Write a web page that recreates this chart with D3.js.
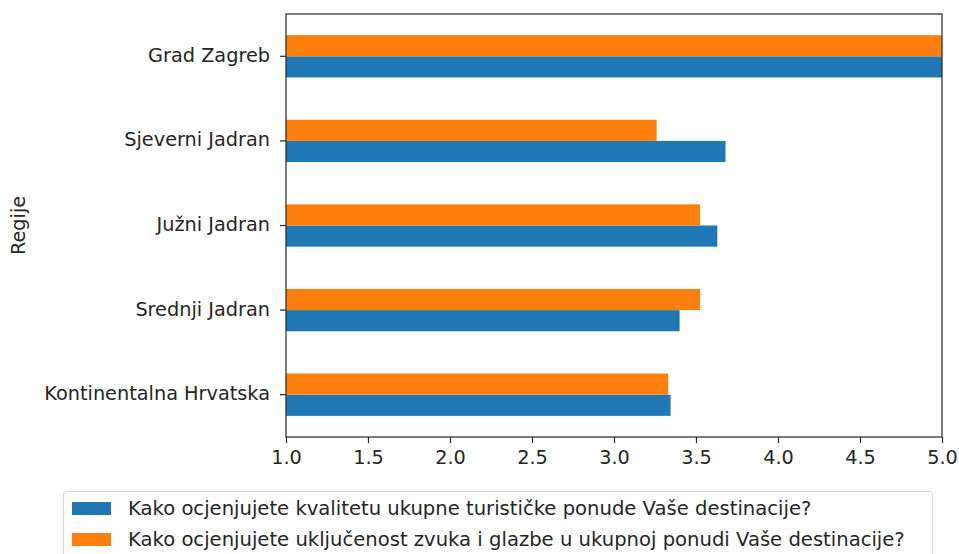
<!DOCTYPE html>
<html>
<head>
<meta charset="utf-8">
<script src="https://cdn.jsdelivr.net/npm/d3@7"></script>
<style>
  body { margin: 0; background: #fff; }
  text { font-family: "DejaVu Sans", sans-serif; fill: #262626; }
</style>
</head>
<body>
<div id="chart"></div>
<script>
// data
var regions = ["Grad Zagreb", "Sjeverni Jadran", "Južni Jadran", "Srednji Jadran", "Kontinentalna Hrvatska"];
var quality = [5.0, 3.68, 3.63, 3.40, 3.345];
var music = [5.0, 3.26, 3.525, 3.525, 3.33];
var seriesNames = [
    "Kako ocjenjujete kvalitetu ukupne turističke ponude Vaše destinacije?",
    "Kako ocjenjujete uključenost zvuka i glazbe u ukupnoj ponudi Vaše destinacije?"
];
var xTicks = [1.0, 1.5, 2.0, 2.5, 3.0, 3.5, 4.0, 4.5, 5.0];
var colors = ["#1f77b4", "#ff7f0e"];

var width = 959, height = 554;
var mLeft = 286, mRight = 942, mTop = 14, mBottom = 437;
var fs = 19.3, legendFs = 19.6;

var svg = d3.select("#chart").append("svg")
    .attr("width", width)
    .attr("height", height);

var x = d3.scaleLinear().domain([1, 5]).range([mLeft, mRight]);
var y = d3.scaleBand().domain(regions).range([mTop, mBottom]);
var sub = d3.scaleBand().domain([1, 0]).range([y.bandwidth() * 0.25, y.bandwidth() * 0.75]);

var rows = regions.map(function (r, i) {
    return { region: r, vals: [quality[i], music[i]] };
});

var g = svg.append("g").selectAll("g")
    .data(rows)
    .enter().append("g")
    .attr("transform", function (d) { return "translate(0," + y(d.region) + ")"; });

g.selectAll("rect")
    .data(function (d) { return d.vals.map(function (v, k) { return { v: v, k: k }; }); })
    .enter().append("rect")
    .attr("x", x(1))
    .attr("y", function (d) { return sub(d.k); })
    .attr("width", function (d) { return x(d.v) - x(1); })
    .attr("height", sub.bandwidth())
    .attr("fill", function (d) { return colors[d.k]; });

// axes
var xAxis = svg.append("g")
    .attr("transform", "translate(0," + mBottom + ")")
    .call(d3.axisBottom(x).tickValues(xTicks).tickFormat(d3.format(".1f")).tickSize(6).tickSizeOuter(0));
var yAxis = svg.append("g")
    .attr("transform", "translate(" + mLeft + ",0)")
    .call(d3.axisLeft(y).tickSize(6).tickSizeOuter(0));

[xAxis, yAxis].forEach(function (a) {
    a.select(".domain").remove();
    a.selectAll("line").attr("stroke", "#262626").attr("stroke-width", 1.2);
    a.selectAll("text").style("font-size", fs + "px").attr("fill", "#262626");
});
xAxis.selectAll("text").attr("y", 9).attr("dy", "0.95em");
yAxis.selectAll("text").attr("x", -16).attr("dy", "0.28em");

// frame
svg.append("rect")
    .attr("x", mLeft).attr("y", mTop)
    .attr("width", mRight - mLeft).attr("height", mBottom - mTop)
    .attr("fill", "none").attr("stroke", "#262626").attr("stroke-width", 1.2);

svg.append("text")
    .attr("transform", "translate(25," + ((mTop + mBottom) / 2) + ") rotate(-90)")
    .attr("text-anchor", "middle")
    .style("font-size", fs + "px")
    .text("Regije");

// legend
var lg = svg.append("g");
lg.append("rect")
    .attr("x", 63.5).attr("y", 491.5)
    .attr("width", 869).attr("height", 80)
    .attr("rx", 3)
    .attr("fill", "#fff").attr("stroke", "#d6d6d6");
seriesNames.forEach(function (n, i) {
    lg.append("rect")
        .attr("x", 72).attr("y", 502 + i * 31)
        .attr("width", 39).attr("height", 13)
        .attr("fill", colors[i]);
    lg.append("text")
        .attr("x", 128).attr("y", 508.5 + i * 31)
        .attr("dy", "0.35em")
        .style("font-size", legendFs + "px")
        .text(n);
});
</script>
</body>
</html>
